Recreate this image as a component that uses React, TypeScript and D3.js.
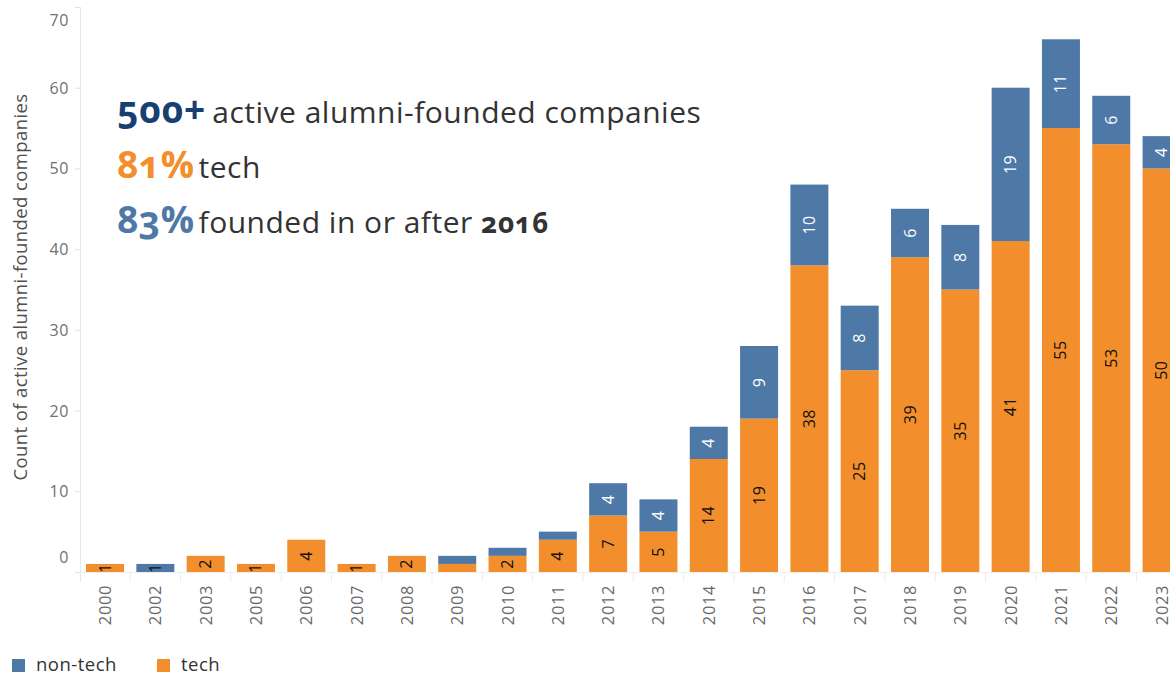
import React from 'react'
import * as d3 from 'd3'

const YEARS = ['2000', '2002', '2003', '2005', '2006', '2007', '2008', '2009', '2010', '2011', '2012', '2013', '2014', '2015', '2016', '2017', '2018', '2019', '2020', '2021', '2022', '2023']
const TECH = [1, 0, 2, 1, 4, 1, 2, 1, 2, 4, 7, 5, 14, 19, 38, 25, 39, 35, 41, 55, 53, 50]
const NON_TECH = [0, 1, 0, 0, 0, 0, 0, 1, 1, 1, 4, 4, 4, 9, 10, 8, 6, 8, 19, 11, 6, 4]
const Y_TICKS = [0, 10, 20, 30, 40, 50, 60, 70]

const BLUE = '#4E79A7'
const ORANGE = '#F28E2B'
const NAVY = '#183F72'
const FONT = "'Open Sans', 'Noto Sans', sans-serif"

const W = 1170
const H = 675

export default function App() {
  const x = d3.scaleBand().domain(YEARS).range([80, 80 + YEARS.length * 50.3]).paddingInner(0.245).paddingOuter(0.12)
  const y = d3.scaleLinear().domain([0, 70]).range([572, 7])

  const rows = YEARS.map((year, i) => ({ year, tech: TECH[i], nonTech: NON_TECH[i] }))
  const stacked = d3.stack<any>().keys(['tech', 'nonTech'])(rows)

  // tableau hides labels of 1-count slices inside stacked bars
  const showLabel = (d: any, key: string) => {
    const v = d.data[key]
    if (!v) return false
    const single = !d.data.tech || !d.data.nonTech
    return single || v >= 2
  }

  return (
    <svg width={W} height={H} style={{ position: 'absolute', left: 0, top: 0, background: '#fff' }} fontFamily={FONT}>
      {/* y axis */}
      <line x1={80.5} x2={80.5} y1={7} y2={582} stroke="#e8e8e8" />
      <line x1={80} x2={1170} y1={572.5} y2={572.5} stroke="#eeeeee" />
      {Y_TICKS.map((t) => {
        const yy = y(t)
        const off = t === 0 ? -9 : t === 70 ? 19 : 6
        return (
          <g key={t}>
            <line x1={75} x2={80} y1={yy + 0.5} y2={yy + 0.5} stroke="#e0e0e0" />
            <text x={69} y={yy + off} textAnchor="end" fontSize={16} letterSpacing={0.6} fill="#707070">{t}</text>
          </g>
        )
      })}
      <text transform="translate(27,287) rotate(-90)" textAnchor="middle" fontSize={18.5} letterSpacing={0.4} fill="#505050">
        Count of active alumni-founded companies
      </text>

      {/* x separators + labels */}
      {YEARS.map((yr, i) => {
        const cx = x(yr)! + x.bandwidth() / 2
        const sep = x(yr)! - (x.step() * x.paddingInner()) / 2
        return (
          <g key={yr}>
            {i > 0 && <line x1={sep} x2={sep} y1={573} y2={582} stroke="#ececec" />}
            <text transform={`translate(${cx + 6},585) rotate(-90)`} textAnchor="end" fontSize={16.5} letterSpacing={0.6} fill="#6a6a6a">{yr}</text>
          </g>
        )
      })}

      {/* bars */}
      {stacked.map((series) => (
        <g key={series.key}>
          {series.map((d: any) => {
            const v = d.data[series.key]
            if (!v) return null
            const x0 = x(d.data.year)!
            const top = y(d[1])
            const bottom = y(d[0])
            const isTech = series.key === 'tech'
            const cx = x0 + x.bandwidth() / 2
            const cy = (top + bottom) / 2
            return (
              <g key={d.data.year}>
                <rect x={x0} y={top} width={x.bandwidth()} height={bottom - top} fill={isTech ? ORANGE : BLUE} />
                {showLabel(d, series.key) && (
                  <text
                    transform={`translate(${cx + 5.5},${cy}) rotate(-90)`}
                    textAnchor="middle"
                    fontSize={16}
                    letterSpacing={0.5}
                    fill={isTech || v < 2 ? '#111' : '#fff'}
                  >
                    {v}
                  </text>
                )}
              </g>
            )
          })}
        </g>
      ))}

      {/* headline annotation */}
      <g style={{ fontVariantNumeric: 'oldstyle-nums' }}>
        <text x={117} y={123} fontSize={30} letterSpacing={0.5} fill="#333">
          <tspan fontWeight="bold" fontSize={37} letterSpacing={1} fill={NAVY}>500+</tspan>
          <tspan dx={6} letterSpacing={0.5}>active alumni-founded companies</tspan>
        </text>
        <text x={117} y={178} fontSize={30} letterSpacing={0.5} fill="#333">
          <tspan fontWeight="bold" fontSize={37} letterSpacing={0.5} fill={ORANGE}>81%</tspan>
          <tspan dx={4} letterSpacing={0.5}>tech</tspan>
        </text>
        <text x={117} y={233} fontSize={30} letterSpacing={0.5} fill="#333">
          <tspan fontWeight="bold" fontSize={37} letterSpacing={0.5} fill={BLUE}>83%</tspan>
          <tspan dx={4} letterSpacing={0.5}>founded in or after </tspan>
          <tspan fontWeight="bold" fontSize={28} letterSpacing={0.8}>2016</tspan>
        </text>
      </g>

      {/* legend */}
      <rect x={12} y={659} width={13} height={13} fill={BLUE} />
      <text x={36} y={671} fontSize={18.5} letterSpacing={0.5} fill="#333">non-tech</text>
      <rect x={157} y={659} width={13} height={13} fill={ORANGE} />
      <text x={181} y={671} fontSize={18.5} letterSpacing={0.5} fill="#333">tech</text>
    </svg>
  )
}
